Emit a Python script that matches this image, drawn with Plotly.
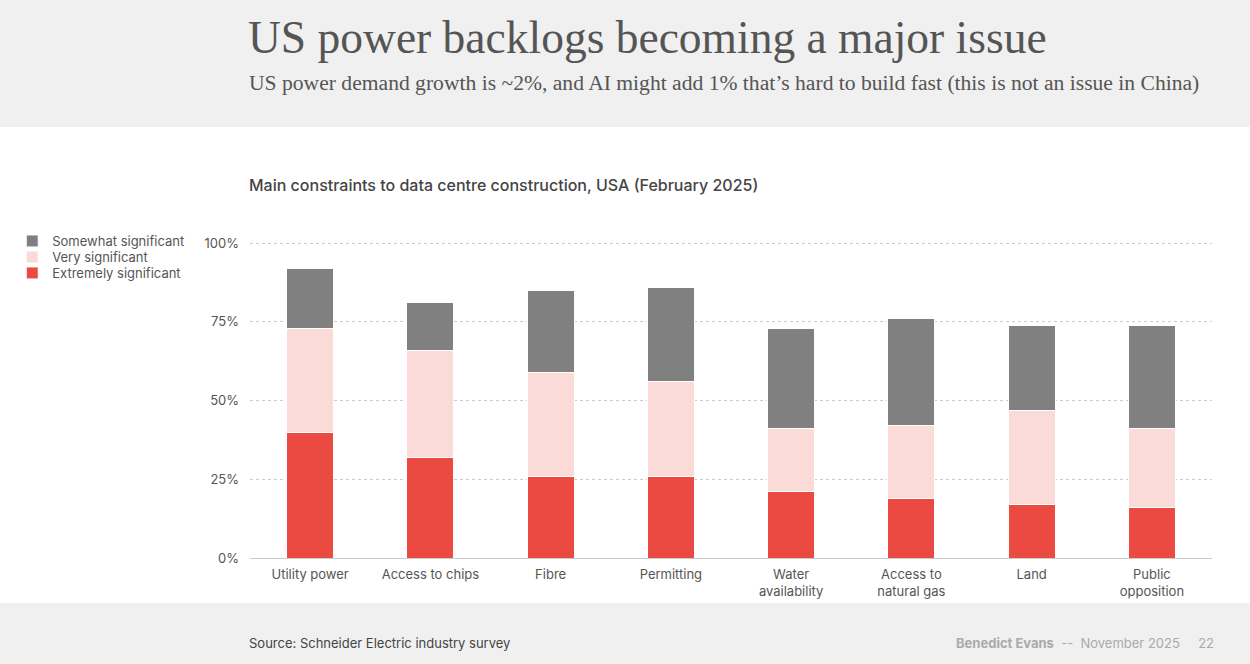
import plotly.graph_objects as go

categories = ["Utility power", "Access to chips", "Fibre", "Permitting",
              "Water<br>availability", "Access to<br>natural gas", "Land", "Public<br>opposition"]
extremely = [40, 32, 26, 26, 21, 19, 17, 16]
very = [33, 34, 33, 30, 20, 23, 30, 25]
somewhat = [19, 15, 26, 30, 32, 34, 27, 33]
y_ticks = [0, 25, 50, 75, 100]
y_tick_labels = ["0%", "25%", "50%", "75%", "100%"]

W, H = 1250, 664
L, R, T, B = 245, 38, 240, 106
ph = H - T - B
pw = W - L - R

def py(ypx):
    return (H - B - ypx) / ph

def px(xpx):
    return (xpx - L) / pw

sans = "Inter"
serif = "Liberation Serif"

fig = go.Figure()
line = dict(color="white", width=1)
fig.add_trace(go.Bar(x=categories, y=extremely, name="Extremely significant",
                     marker=dict(color="#eb4a42", line=line), legend="legend3"))
fig.add_trace(go.Bar(x=categories, y=very, name="Very significant",
                     marker=dict(color="#fadbd8", line=line), legend="legend2"))
fig.add_trace(go.Bar(x=categories, y=somewhat, name="Somewhat significant",
                     marker=dict(color="#808080", line=line), legend="legend"))

def leg(ycenter):
    return dict(x=px(6), y=py(ycenter), xanchor="left", yanchor="middle",
                bgcolor="rgba(0,0,0,0)", font=dict(family=sans, size=13, color="#555"),
                itemwidth=30)

fig.update_layout(
    width=W, height=H,
    margin=dict(l=L, r=R, t=T, b=B),
    barmode="stack", bargap=0.61,
    paper_bgcolor="#f0f0f0", plot_bgcolor="white",
    font=dict(family=sans, size=13, color="#555"),
    showlegend=True,
    legend=leg(241), legend2=leg(257), legend3=leg(273),
    xaxis=dict(showgrid=False, showline=True, linecolor="#cccccc", linewidth=1,
               ticks="", ticklabelstandoff=4,
               tickfont=dict(family=sans, size=13, color="#555")),
    yaxis=dict(range=[0, 101], tickvals=y_ticks, ticktext=y_tick_labels,
               showgrid=True, gridcolor="#cccccc", griddash="dot", gridwidth=1,
               zeroline=False, showline=False, ticks="", ticklabelstandoff=10,
               tickfont=dict(family=sans, size=13, color="#555")),
    shapes=[dict(type="rect", xref="paper", yref="paper", x0=-1, x1=2,
                 y0=py(603), y1=py(127), fillcolor="white", line=dict(width=0),
                 layer="below")],
    annotations=[
        dict(text="US power backlogs becoming a major issue", xref="paper", yref="paper",
             x=px(241), y=py(38), xanchor="left", yanchor="middle", showarrow=False,
             font=dict(family=serif, size=45.5, color="#555")),
        dict(text="US power demand growth is ~2%, and AI might add 1% that’s hard to build fast (this is not an issue in China)",
             xref="paper", yref="paper", x=px(242), y=py(83), xanchor="left", yanchor="middle",
             showarrow=False, font=dict(family=serif, size=21.6, color="#555")),
        dict(text="Main constraints to data centre construction, USA (February 2025)",
             xref="paper", yref="paper", x=px(242), y=py(185), xanchor="left", yanchor="middle",
             showarrow=False, font=dict(family=sans, size=16, color="#444", weight=500)),
        dict(text="Source: Schneider Electric industry survey", xref="paper", yref="paper",
             x=px(242), y=py(643), xanchor="left", yanchor="middle", showarrow=False,
             font=dict(family=sans, size=13, color="#444")),
        dict(text="<b>Benedict Evans</b>  --  November 2025     22", xref="paper", yref="paper",
             x=px(1216), y=py(643), xanchor="right", yanchor="middle", showarrow=False,
             font=dict(family=sans, size=13, color="#aaaaaa")),
    ],
)

post = ("document.body.style.margin='0';document.body.style.padding='0';"
        "document.body.style.overflow='hidden';"
        "var gd=document.getElementById('{plot_id}');"
        "gd.style.position='absolute';gd.style.left='0px';gd.style.top='0px';")
fig.write_html("out.html", config={"displayModeBar": False}, post_script=post)
